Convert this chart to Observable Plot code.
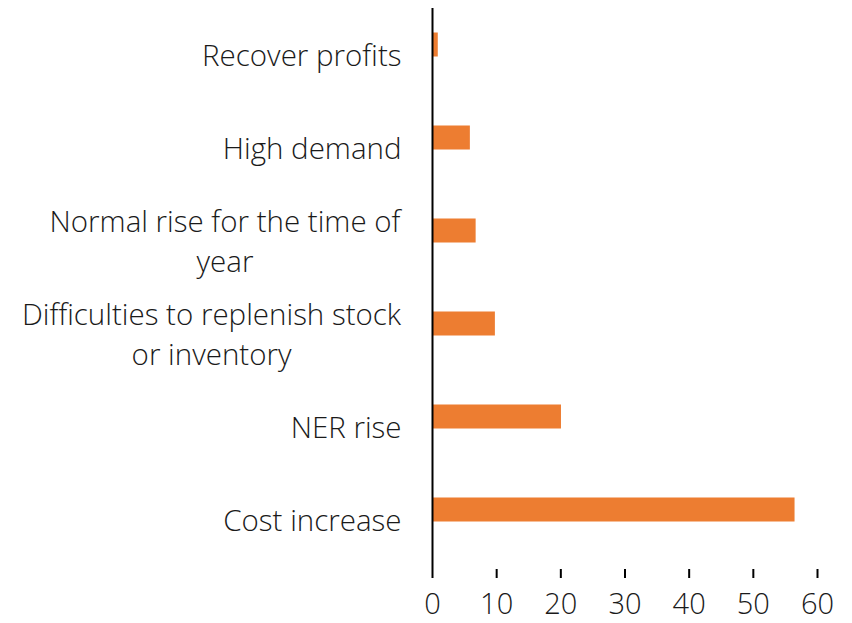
<!DOCTYPE html>
<html>
<head>
<meta charset="utf-8">
<script src="https://cdn.jsdelivr.net/npm/d3@7"></script>
<script src="https://cdn.jsdelivr.net/npm/@observablehq/plot@0.6"></script>
<style>
  html, body { margin: 0; padding: 0; background: #fff; }
  #chart svg { display: block; }
</style>
</head>
<body>
<div id="chart"></div>
<script>
const categories = [
  "Recover profits",
  "High demand",
  "Normal rise for the time of\nyear",
  "Difficulties to replenish stock\nor inventory",
  "NER rise",
  "Cost increase"
];
const values = [0.9, 5.9, 6.8, 9.8, 20.1, 56.5];
const xTicks = [0, 10, 20, 30, 40, 50, 60];

const data = categories.map((c, i) => ({category: c, value: values[i]}));

const FONT = "'Open Sans', sans-serif";
const FS = 29.5;

const chart = Plot.plot({
  width: 852,
  height: 623,
  marginTop: 8,
  marginBottom: 54,
  marginLeft: 432,
  marginRight: 35,
  style: {fontFamily: FONT, fontSize: FS + "px", fontWeight: 300, color: "#1a1a1a", background: "#fff"},
  x: {domain: [0, 60], ticks: xTicks, label: null},
  y: {domain: categories, padding: 0, axis: null},
  marks: [
    Plot.barX(data, {
      x: "value", y: "category", fill: "#ED7D31",
      insetTop: 22.5, insetBottom: 46.5
    }),
    Plot.ruleX([0], {stroke: "#000", strokeWidth: 2}),
    Plot.axisX({ticks: xTicks, tickSize: 9, tickPadding: 15, tickFormat: d => String(d), fontSize: 29, fontWeight: 300, strokeWidth: 2, label: null, stroke: "#000", fill: "#1a1a1a"}),
    Plot.ruleY([0], {y: () => null, x1: 0, x2: 60, frameAnchor: "bottom", stroke: "#000", strokeWidth: 2}),
    Plot.text(data, {
      x: 0, y: "category", text: "category",
      textAnchor: "end", dx: -31, dy: -4, lineHeight: 1.36,
      fontSize: FS, fontWeight: 300, fill: "#1a1a1a"
    })
  ]
});
document.getElementById("chart").appendChild(chart);

// center the lines of wrapped labels within their right-aligned block
d3.select(chart).selectAll("text").each(function() {
  const tspans = this.querySelectorAll("tspan");
  if (tspans.length > 1) {
    const w = this.getBBox().width;
    this.setAttribute("text-anchor", "middle");
    tspans.forEach(t => t.setAttribute("x", -w / 2));
  }
});
</script>
</body>
</html>
